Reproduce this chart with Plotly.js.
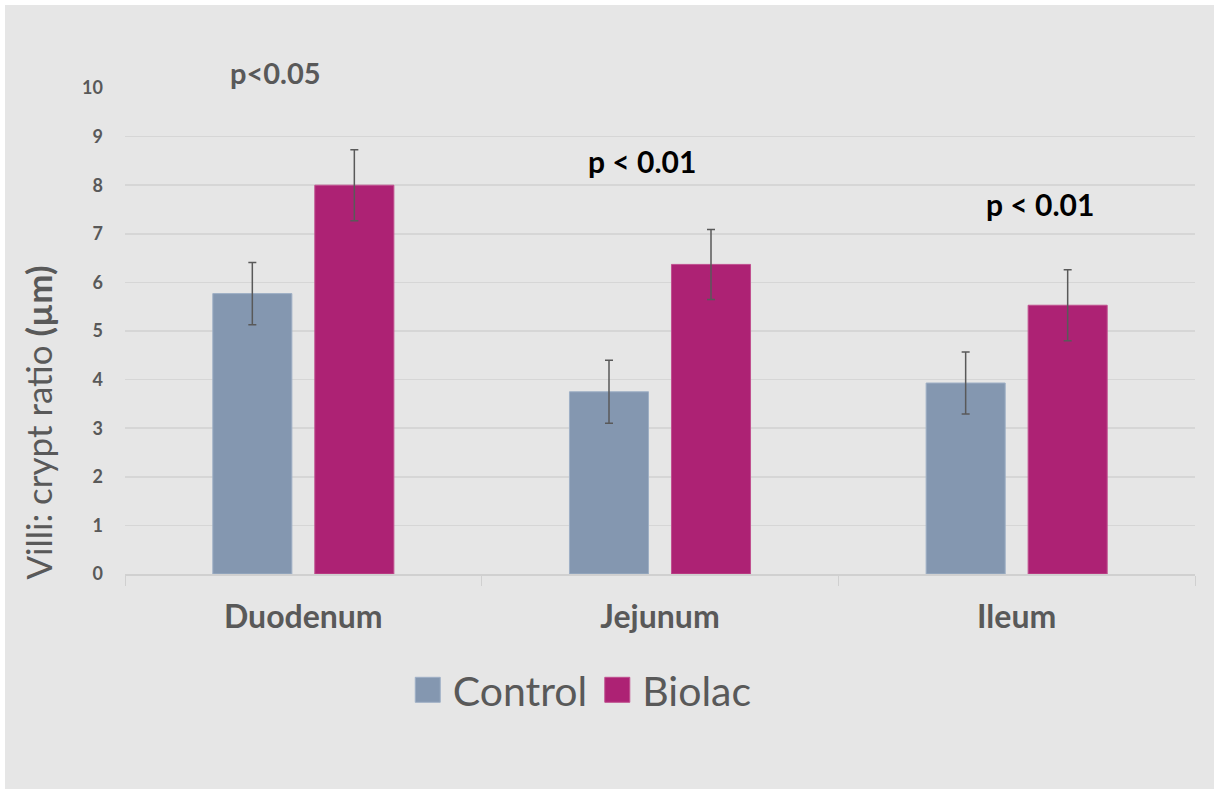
<!DOCTYPE html>
<html><head><meta charset="utf-8">
<script src="https://cdn.plot.ly/plotly-3.0.1.min.js"></script>
<style>html,body{margin:0;padding:0;background:#fff;}#chart{position:absolute;left:5px;top:5px;width:1209px;height:784px;}</style>
</head><body><div id="chart"></div>
<script>
const categories = ["Duodenum", "Jejunum", "Ileum"];
const controlValues = [5.77, 3.75, 3.93];
const controlErrors = [0.64, 0.65, 0.64];
const biolacValues = [8.00, 6.37, 5.53];
const biolacErrors = [0.73, 0.72, 0.73];
const pLabels = ["p<0.05", "p < 0.01", "p < 0.01"];
const yTicks = [0,1,2,3,4,5,6,7,8,9,10];

const FONT = "Lato, 'Open Sans', sans-serif";
const GREY = "#595959";

const traces = [
  {type:"bar", name:"Control", x:categories, y:controlValues,
   marker:{color:"#8497b0", line:{color:"#9fb0c6", width:1}},
   error_y:{type:"data", array:controlErrors, visible:true, color:GREY, thickness:1.5, width:4}},
  {type:"bar", name:"Biolac", x:categories, y:biolacValues,
   marker:{color:"#ad2274", line:{color:"#c0508f", width:1}},
   error_y:{type:"data", array:biolacErrors, visible:true, color:GREY, thickness:1.5, width:4}}
];

const annotations = [
  {text:pLabels[0], x:-0.077, y:1.031, xref:"x", yref:"paper", yanchor:"middle", showarrow:false, font:{family:FONT, size:29, color:GREY, weight:"bold"}},
  {text:pLabels[1], x:0.95, y:0.850, xref:"x", yref:"paper", yanchor:"middle", showarrow:false, font:{family:FONT, size:30, color:"#000", weight:"bold"}},
  {text:pLabels[2], x:2.065, y:0.761, xref:"x", yref:"paper", yanchor:"middle", showarrow:false, font:{family:FONT, size:30, color:"#000", weight:"bold"}},
  {text:"Villi: crypt ratio <b>(µm)</b>", textangle:-90, xref:"paper", yref:"paper", x:-0.081, y:-0.015, yanchor:"bottom", xanchor:"center", showarrow:false, font:{family:FONT, size:35, color:GREY}}
];

const layout = {
  width:1209, height:784,
  paper_bgcolor:"#e6e6e6", plot_bgcolor:"#e6e6e6",
  margin:{l:120, r:19, t:83, b:215},
  barmode:"group", bargap:0.428, bargroupgap:0.225,
  font:{family:FONT, color:GREY},
  xaxis:{type:"category", tickson:"boundaries", ticks:"outside", ticklen:10, tickcolor:"#d0d0d0",
         showline:true, linecolor:"#d0d0d0", linewidth:1.5, showgrid:false,
         tickfont:{family:FONT, size:32, color:GREY, weight:"bold"}, ticklabelstandoff:14},
  yaxis:{range:[0,10], tickvals:yTicks, showgrid:true, gridcolor:"#d6d6d6", gridwidth:1.5,
         zeroline:false, showline:false, ticks:"", ticklabelstandoff:21,
         tickfont:{family:FONT, size:18, color:GREY, weight:"bold"}},
  legend:{orientation:"h", x:0.425, xanchor:"center", y:-0.239, yanchor:"middle",
          font:{family:FONT, size:41, color:GREY}, bgcolor:"rgba(0,0,0,0)", itemwidth:40},
  annotations:annotations,
  showlegend:true
};

Plotly.newPlot("chart", traces, layout, {displayModeBar:false, staticPlot:true}).then(function(gd){
  gd.querySelectorAll(".legendpoints path").forEach(function(p){
    p.setAttribute("d", "M12.5,12.5H-12.5V-12.5H12.5Z");
  });
});
</script></body></html>
